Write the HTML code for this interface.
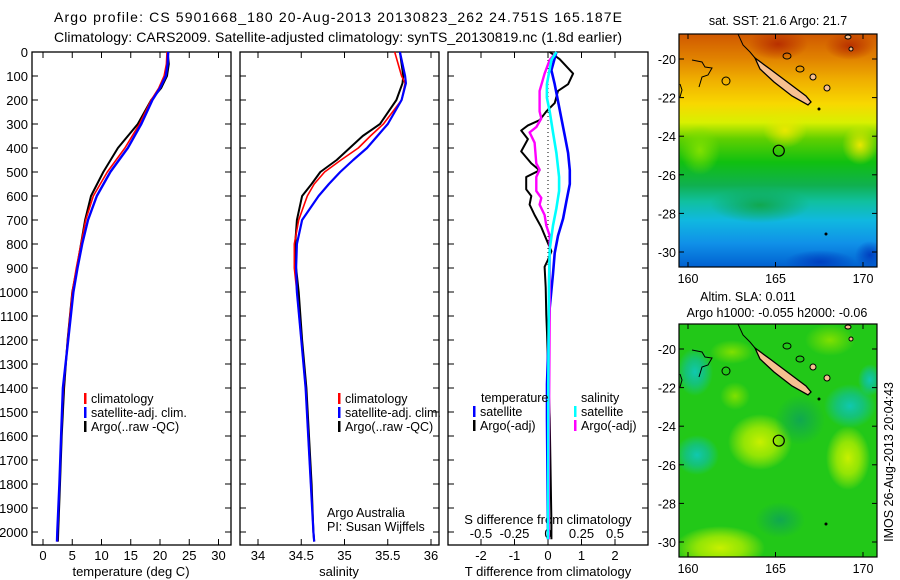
<!DOCTYPE html>
<html><head><meta charset="utf-8"><style>
html,body{margin:0;padding:0;background:#fff;overflow:hidden;width:900px;height:580px;}
svg{display:block;}
svg text{font-family:"Liberation Sans",sans-serif;fill:#000;}
</style></head><body>
<svg id="fig" width="900" height="580" viewBox="0 0 900 580" xmlns="http://www.w3.org/2000/svg">
<defs>
<linearGradient id="sstg" x1="0" y1="0" x2="0" y2="1">
<stop offset="0" stop-color="#d05800"/><stop offset="0.1" stop-color="#e08000"/>
<stop offset="0.2" stop-color="#f0b000"/><stop offset="0.3" stop-color="#f8d800"/>
<stop offset="0.38" stop-color="#d8f000"/><stop offset="0.45" stop-color="#60d000"/>
<stop offset="0.55" stop-color="#10c010"/><stop offset="0.65" stop-color="#10b050"/>
<stop offset="0.72" stop-color="#10c0a0"/><stop offset="0.8" stop-color="#10b8e0"/>
<stop offset="0.9" stop-color="#1090e8"/><stop offset="1" stop-color="#0060d0"/></linearGradient>
<radialGradient id="yb"><stop offset="0" stop-color="#c8f000"/><stop offset="0.5" stop-color="#b0ec00" stop-opacity="0.8"/><stop offset="1" stop-color="#c8f000" stop-opacity="0"/></radialGradient>
<radialGradient id="lb"><stop offset="0" stop-color="#80e000"/><stop offset="1" stop-color="#80e000" stop-opacity="0"/></radialGradient>
<radialGradient id="tb"><stop offset="0" stop-color="#10c8b0"/><stop offset="0.5" stop-color="#10c0a0" stop-opacity="0.7"/><stop offset="1" stop-color="#10c8b0" stop-opacity="0"/></radialGradient>
<radialGradient id="gb"><stop offset="0" stop-color="#10a850"/><stop offset="1" stop-color="#10a850" stop-opacity="0"/></radialGradient>
<radialGradient id="ryb"><stop offset="0" stop-color="#e8e800"/><stop offset="1" stop-color="#e8e800" stop-opacity="0"/></radialGradient>
<radialGradient id="rb"><stop offset="0" stop-color="#b83000"/><stop offset="1" stop-color="#b83000" stop-opacity="0"/></radialGradient>
<radialGradient id="db"><stop offset="0" stop-color="#0040c0"/><stop offset="1" stop-color="#0040c0" stop-opacity="0"/></radialGradient>
<clipPath id="c1"><rect x="679" y="34" width="198" height="233"/></clipPath>
<clipPath id="c2"><rect x="679" y="324" width="198" height="233"/></clipPath>
</defs>
<text x="54" y="22" font-size="14" textLength="568">Argo profile: CS 5901668_180 20-Aug-2013 20130823_262 24.751S 165.187E</text>
<text x="54" y="42" font-size="14" textLength="568">Climatology: CARS2009. Satellite-adjusted climatology: synTS_20130819.nc (1.8d earlier)</text>
<g id="axes"></g>
<g id="lines"></g>
<g id="maps"></g>
</svg>
<script>
// ---- data ----
const tDepth=[0,50,100,150,200,300,400,500,600,700,800,900,1000,1200,1400,1600,1800,2000,2040];
const tClim=[21.2,21.1,20.7,19.8,18.5,16.5,14.0,11.0,8.6,7.3,6.5,5.7,5.0,4.2,3.5,3.1,2.8,2.5,2.45];
const tSat=[21.4,21.3,21.0,20.0,18.7,16.8,14.5,11.5,9.2,7.7,6.7,5.9,5.2,4.3,3.4,3.1,2.8,2.45,2.4];
const tArgo=[21.3,21.5,21.2,20.2,18.5,16.2,12.8,10.3,8.2,7.2,6.5,5.8,5.0,4.2,3.6,3.2,2.9,2.6,2.55];
const sDepth=[0,100,130,200,300,350,400,450,500,550,600,700,800,900,1000,1200,1400,1600,1800,2000,2040];
const sClim=[35.58,35.66,35.70,35.66,35.45,35.30,35.16,34.96,34.77,34.65,34.57,34.47,34.42,34.42,34.45,34.50,34.55,34.58,34.61,34.64,34.65];
const sSat=[35.64,35.70,35.71,35.66,35.50,35.38,35.26,35.10,34.95,34.82,34.70,34.51,34.45,34.44,34.45,34.50,34.55,34.58,34.61,34.64,34.65];
const sArgo=[35.64,35.68,35.67,35.60,35.41,35.21,35.06,34.91,34.72,34.62,34.51,34.45,34.43,34.44,34.47,34.51,34.56,34.59,34.62,34.64,34.65];
const dTArgoDepth=[0,30,90,134,162,213,248,284,306,327,363,414,464,493,521,572,600,636,679,730,780,830,866,895,981,1096,1168,1527,1958,2030];
const dTArgo=[0.05,0.35,0.75,0.6,0.3,0.2,-0.05,-0.25,-0.6,-0.8,-0.6,-0.8,-0.5,-0.25,-0.65,-0.65,-0.5,-0.55,-0.4,-0.2,-0.05,0.1,0,-0.1,-0.07,-0.05,-0.03,0.05,0.1,0.1];
const dTSatDepth=[0,76,134,277,349,421,493,550,622,694,766,838,924,1067,1383,1527,2030];
const dTSat=[0.25,0.1,0.2,0.4,0.5,0.6,0.65,0.65,0.55,0.45,0.3,0.2,0.15,0.05,-0.03,-0.03,0];
const dSSatDepth=[0,33,134,191,248,335,421,521,579,651,723,823,952,1383,2030];
const dSSat=[0.0625,0.025,-0.008,-0.008,0.0125,0.0375,0.0625,0.083,0.083,0.0625,0.0375,0.0125,0.0075,0.0025,0];
const dSArgoDepth=[0,33,90,162,248,277,313,335,378,464,490,521,579,608,636,679,723,766,1096,1527,2030];
const dSArgo=[0.0625,0.0125,-0.025,-0.0625,-0.0625,-0.05,-0.0875,-0.1375,-0.1,-0.0875,-0.0625,-0.0875,-0.0875,-0.05,-0.0625,-0.025,-0.0125,0.0125,0.0125,0.0075,0.005];
const depthTicks=[0,100,200,300,400,500,600,700,800,900,1000,1100,1200,1300,1400,1500,1600,1700,1800,1900,2000];
const tTicks=[0,5,10,15,20,25,30];
const sTicks=[34,34.5,35,35.5,36];
const dTTicks=[-2,-1,0,1,2];
const dSTicks=[-0.5,-0.25,0,0.25,0.5];
const dSTickLabels=['-0.5','-0.25','0','0.25','0.5'];
const latTicks=[-20,-22,-24,-26,-28,-30];
const lonTicks=[160,165,170];
const argoLat=-24.751, argoLon=165.187;
// ---- scales ----
const yD=d=>52+d*0.24;
const xT=v=>43+v*5.85;
const xS=v=>258+(v-34)*86.5;
const xDT=v=>548+v*33.5;
const xDS=v=>548+v*134;
const xLon=v=>688+(v-160)*17.5;
const yLat1=v=>59+(-20-v)*19.3;
const yLat2=v=>349+(-20-v)*19.3;
const NS='http://www.w3.org/2000/svg';
function mk(parent,tag,attrs){const e=document.createElementNS(NS,tag);for(const k in attrs)e.setAttribute(k,attrs[k]);(typeof parent==='string'?document.getElementById(parent):parent).appendChild(e);return e;}
function txt(parent,x,y,s,size,anchor){const e=mk(parent,'text',{x:x,y:y,'font-size':size,'text-anchor':anchor||'start'});e.textContent=s;return e;}
const panels=[[32,231,'temperature-panel'],[240,439,'salinity-panel'],[448,648,'difference-panel']];
panels.forEach(p=>{
 const r=mk('axes','rect',{x:p[0],y:52,width:p[1]-p[0],height:493,fill:'none',stroke:'#000','stroke-width':1.3});
 
 
 depthTicks.forEach(d=>{mk('axes','line',{x1:p[0],x2:p[0]+6,y1:yD(d),y2:yD(d),stroke:'#000'});mk('axes','line',{x1:p[1],x2:p[1]-6,y1:yD(d),y2:yD(d),stroke:'#000'});});
});
depthTicks.forEach(d=>{const e=txt('axes',28,yD(d)+5,String(d),13,'end');
 
 });
function xticks(vals,f,ylab){vals.forEach(v=>{const x=f(v);mk('axes','line',{x1:x,x2:x,y1:52,y2:58,stroke:'#000'});mk('axes','line',{x1:x,x2:x,y1:545,y2:539,stroke:'#000'});
 const e=txt('axes',x,ylab,String(v),13,'middle');
 
 });}
xticks(tTicks,xT,560);
xticks(sTicks,xS,560);
xticks(dTTicks,xDT,560);
dSTicks.forEach((v,i)=>{const e=txt('axes',xDS(v),538,dSTickLabels[i],13,'middle');
 
 });
[[131,'temperature (deg C)','x-axis-title-temperature'],[339,'salinity','x-axis-title-salinity'],[548,'T difference from climatology','x-axis-title-t-diff']].forEach(a=>{
 const e=txt('axes',a[0],576,a[1],13,'middle');
 
 });
{const e=txt('axes',548,524,'S difference from climatology',13,'middle');
 
 }
{const e=mk('axes','line',{x1:548,x2:548,y1:52,y2:yD(900),stroke:'#000','stroke-dasharray':'1,3'});
 
 }
function line(depths,vals,fx,color,w,name){const pts=depths.map((d,i)=>fx(vals[i]).toFixed(1)+','+yD(d).toFixed(1)).join(' ');
 const e=mk('lines','polyline',{points:pts,fill:'none',stroke:color,'stroke-width':w,'stroke-linejoin':'round'});
 
 }
line(tDepth,tArgo,xT,'#000',2,'temperature-argo-line');
line(tDepth,tClim,xT,'#f00',1.6,'temperature-climatology-line');
line(tDepth,tSat,xT,'#00f',2.4,'temperature-satellite-line');
line(sDepth,sArgo,xS,'#000',2,'salinity-argo-line');
line(sDepth,sClim,xS,'#f00',1.6,'salinity-climatology-line');
line(sDepth,sSat,xS,'#00f',2.2,'salinity-satellite-line');
line(dTArgoDepth,dTArgo,xDT,'#000',2,'t-diff-argo-line');
line(dTSatDepth,dTSat,xDT,'#00f',2.6,'t-diff-satellite-line');
line(dSArgoDepth,dSArgo,xDS,'#f0f',2.4,'s-diff-argo-line');
line(dSSatDepth,dSSat,xDS,'#0ff',2.6,'s-diff-satellite-line');
function leg(x,y,color,label,name){mk('lines','rect',{x:x,y:y-10,width:2.5,height:11,fill:color});
 const e=txt('lines',x+7,y,label,12.5);
 
 }
[[84,'temperature'],[338,'salinity']].forEach(p=>{
 leg(p[0],403,'#f00','climatology','legend-climatology-'+p[1]);
 leg(p[0],417,'#00f','satellite-adj. clim.','legend-satellite-'+p[1]);
 leg(p[0],431,'#000','Argo(..raw -QC)','legend-argo-'+p[1]);
});
{let e=txt('lines',481,402,'temperature',12.5);
 e=txt('lines',581,402,'salinity',12.5);}
leg(473,416,'#00f','satellite','legend-t-satellite');
leg(473,430,'#000','Argo(-adj)','legend-t-argo');
leg(574,416,'#0ff','satellite','legend-s-satellite');
leg(574,430,'#f0f','Argo(-adj)','legend-s-argo');
{let e=txt('lines',327,517,'Argo Australia',12.5);
 e=txt('lines',327,531,'PI: Susan Wijffels',12.5);}
// maps (blob coordinates relative to a map whose top is at y=34)
function map(y0,fl,clip,name,blobs,base,lbly){
 const g=mk('maps','g',{'clip-path':'url(#'+clip+')'});
 
 
 mk(g,'rect',{x:679,y:y0,width:198,height:233,fill:base});
 const oy=y0-34;
 blobs.forEach(b=>mk(g,'ellipse',{cx:b[0],cy:b[1]+oy,rx:b[2],ry:b[3],fill:'url(#'+b[4]+')'}));
 const P=a=>a.map(p=>p[0]+','+(p[1]+oy)).join(' ');
 mk(g,'polygon',{points:P([[755,58],[770,69],[790,84],[806,96],[811,102],[808,105],[792,96],[774,82],[760,69]]),fill:'#f8c090',stroke:'#000','stroke-width':1.3});
 mk(g,'polyline',{points:P([[692,60],[702,62],[705,67],[712,68],[708,75],[702,77],[699,87]]),fill:'none',stroke:'#000'});
 mk(g,'polyline',{points:P([[738,34],[743,45],[750,52],[755,58]]),fill:'none',stroke:'#000'});
 mk(g,'polyline',{points:P([[680,84],[682,90],[680,97]]),fill:'none',stroke:'#000'});
 mk(g,'ellipse',{cx:726,cy:81+oy,rx:4,ry:4,fill:'none',stroke:'#000'});
 mk(g,'ellipse',{cx:787,cy:56+oy,rx:4,ry:3,fill:'none',stroke:'#000'});
 mk(g,'ellipse',{cx:800,cy:69+oy,rx:4,ry:3,fill:'none',stroke:'#000'});
 mk(g,'ellipse',{cx:813,cy:77+oy,rx:3,ry:3,fill:'#f8c090',stroke:'#000'});
 mk(g,'ellipse',{cx:827,cy:88+oy,rx:3,ry:3,fill:'#f8c090',stroke:'#000'});
 mk(g,'ellipse',{cx:848,cy:37+oy,rx:3,ry:2,fill:'#f8c090',stroke:'#000'});
 mk(g,'ellipse',{cx:851,cy:49+oy,rx:2,ry:2,fill:'#f8c090',stroke:'#000'});
 mk(g,'circle',{cx:819,cy:109+oy,r:1.5,fill:'#000'});
 mk(g,'circle',{cx:826,cy:234+oy,r:1.5,fill:'#000'});
 const c=mk(g,'circle',{cx:xLon(argoLon),cy:fl(argoLat),r:5.5,fill:'none',stroke:'#000','stroke-width':1.2});
 
 
 const fr=mk('maps','rect',{x:679,y:y0,width:198,height:233,fill:'none',stroke:'#000','stroke-width':1.2});
 
 
 latTicks.forEach(v=>{const y=fl(v);mk('maps','line',{x1:679,x2:684,y1:y,y2:y,stroke:'#000'});mk('maps','line',{x1:877,x2:872,y1:y,y2:y,stroke:'#000'});
  const e=txt('maps',676,y+5,String(v),12.5,'end');
  
  });
 lonTicks.forEach(v=>{const x=xLon(v);mk('maps','line',{x1:x,x2:x,y1:y0+233,y2:y0+228,stroke:'#000'});mk('maps','line',{x1:x,x2:x,y1:y0,y2:y0+5,stroke:'#000'});
  const e=txt('maps',x,lbly,String(v),12.5,'middle');
  
  });
}
map(34,yLat1,'c1','sst-map',[[778,44,30,16,'rb'],[850,46,25,14,'rb'],[785,130,22,18,'ryb'],[700,150,20,25,'lb'],[860,145,18,20,'ryb'],[760,205,50,18,'gb'],[820,262,35,12,'db'],[870,255,15,14,'db']],'url(#sstg)',283);
map(324,yLat2,'c2','sla-map',[[732,62,22,12,'lb'],[735,106,15,14,'lb'],[760,152,32,28,'yb'],[848,168,22,32,'yb'],[720,258,45,22,'yb'],[850,116,26,22,'tb'],[697,165,22,20,'tb'],[695,82,18,24,'tb'],[800,130,25,25,'gb'],[780,230,25,18,'gb'],[830,50,25,16,'lb'],[870,90,12,16,'tb']],'#22c818',573);
{let e=txt('maps',778,25,'sat. SST: 21.6 Argo: 21.7',12.5,'middle');
 e=txt('maps',748,301,'Altim. SLA: 0.011',12.5,'middle');
 e=txt('maps',777,317,'Argo h1000: -0.055 h2000: -0.06',12.5,'middle');
 e=txt('maps',0,0,'IMOS 26-Aug-2013 20:04:43',12.5,'middle');e.setAttribute('transform','translate(893,462) rotate(-90)');}
</script>
</body></html>
